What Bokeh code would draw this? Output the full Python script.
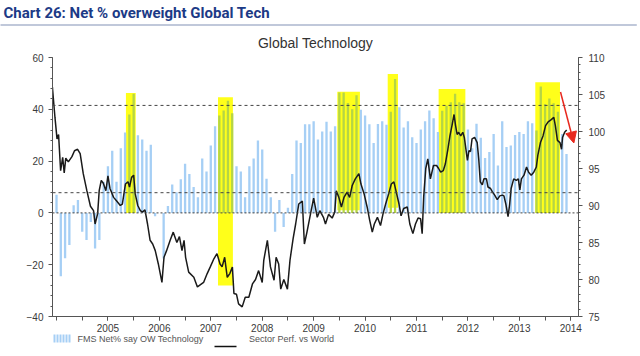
import pandas as pd
from bokeh.plotting import figure
from bokeh.models import (Range1d, LinearAxis, FixedTicker, Span,
                          Arrow, NormalHead, ColumnDataSource, Title)
from bokeh.embed import file_html
from bokeh.resources import INLINE

# ---------------- data ----------------
chart_title = "Chart 26: Net % overweight Global Tech"
panel_title = "Global Technology"
bar_label = "FMS Net% say OW Technology"
line_label = "Sector Perf. vs World"

months = pd.date_range("2004-01-01", periods=120, freq="MS")
fms_net = [7, -24.5, -17.5, -12.4, 3, 5, -7.3, -10.5, -3.5, -13.7,
           -10.5, 12, 18, 24, 12, 25, 31, 38, 46, 30,
           28.3, 24, 26.3, -1.3, 0, -17.6, 2.7, 11, 8, 13,
           19, 15, 10, 6, 21, 16, 26, 33.5, 37.6, 39.5,
           43.3, 38.5, 18, 16, 6, 18, 21, 28, 24.5, 13.2,
           6, -7.3, 5, -5.4, 2, 15, 28, 27, 34.2, 34.2,
           35.4, 28.3, 31.4, 35.2, 31.4, 33.5, 46.5, 46.5, 42.4, 40,
           45.4, 39.8, 37.6, 34.2, 27, 34.3, 35.4, 34, 39.1, 51.7,
           40.8, 33, 35.4, 29.2, 27, 32.2, 35.4, 39.5, 36.5, 31.2,
           39.4, 41.4, 42.7, 46, 42.7, 42.3, 32.2, 25, 34.4, 29,
           21.2, 23.5, 30.5, 18.3, 35.4, 25.4, 26, 30.1, 31.2, 30.5,
           35.4, 34.6, 31.8, 48.8, 42, 44.2, 42.3, 39.1, 30.5, 22.7]

perf_t = [2003.92, 2003.97, 2004.01, 2004.04, 2004.08, 2004.12, 2004.15, 2004.18, 2004.23, 2004.30,
          2004.35, 2004.41, 2004.46, 2004.52, 2004.59, 2004.66, 2004.72, 2004.75, 2004.80, 2004.83,
          2004.87, 2004.91, 2004.96, 2005.00, 2005.04, 2005.11, 2005.17, 2005.24, 2005.28, 2005.34,
          2005.39, 2005.42, 2005.46, 2005.50, 2005.53, 2005.58, 2005.63, 2005.67, 2005.72, 2005.77,
          2005.82, 2005.87, 2005.92, 2005.98, 2006.05, 2006.09, 2006.14, 2006.21, 2006.27, 2006.34,
          2006.39, 2006.44, 2006.48, 2006.51, 2006.57, 2006.67, 2006.74, 2006.80, 2006.86, 2006.93,
          2006.99, 2007.06, 2007.12, 2007.18, 2007.22, 2007.27, 2007.32, 2007.37, 2007.42, 2007.45,
          2007.50, 2007.54, 2007.61, 2007.67, 2007.74, 2007.81, 2007.87, 2007.93, 2008.00, 2008.03,
          2008.10, 2008.16, 2008.23, 2008.27, 2008.32, 2008.36, 2008.42, 2008.49, 2008.54, 2008.60,
          2008.65, 2008.71, 2008.78, 2008.82, 2008.87, 2008.94, 2009.00, 2009.07, 2009.12, 2009.19,
          2009.23, 2009.29, 2009.36, 2009.41, 2009.44, 2009.49, 2009.54, 2009.59, 2009.65, 2009.70,
          2009.75, 2009.81, 2009.88, 2009.92, 2009.98, 2010.04, 2010.09, 2010.14, 2010.18, 2010.24,
          2010.30, 2010.35, 2010.40, 2010.46, 2010.51, 2010.56, 2010.60, 2010.66, 2010.70, 2010.75,
          2010.82, 2010.87, 2010.93, 2010.98, 2011.03, 2011.08, 2011.11, 2011.14, 2011.18, 2011.22,
          2011.27, 2011.33, 2011.39, 2011.43, 2011.47, 2011.52, 2011.56, 2011.61, 2011.65, 2011.69,
          2011.73, 2011.76, 2011.79, 2011.82, 2011.86, 2011.90, 2011.93, 2011.99, 2012.02, 2012.05,
          2012.08, 2012.13, 2012.18, 2012.21, 2012.24, 2012.28, 2012.31, 2012.36, 2012.39, 2012.44,
          2012.47, 2012.52, 2012.57, 2012.62, 2012.67, 2012.70, 2012.74, 2012.78, 2012.81, 2012.84,
          2012.89, 2012.94, 2012.98, 2013.01, 2013.04, 2013.09, 2013.14, 2013.18, 2013.23, 2013.28,
          2013.33, 2013.36, 2013.41, 2013.46, 2013.51, 2013.56, 2013.62, 2013.67, 2013.70, 2013.74,
          2013.79, 2013.82, 2013.84, 2013.88, 2013.92]
perf_v = [106, 101.9, 99, 99.6, 94.7, 96.5, 94.4, 96.4, 95.9, 96.6,
          97.4, 97.6, 97, 94.3, 92, 89.9, 89.3, 87.5, 88.9, 92,
          93.4, 93, 92, 94, 92.3, 91.1, 90.6, 90, 90.2, 92.9,
          93.2, 92.5, 93.8, 94.1, 91.6, 90, 89.3, 89.1, 89.4, 87.5,
          85.3, 84.8, 83.9, 82.1, 79.6, 83, 83.9, 85.3, 86.4, 85,
          85.8, 83.9, 85.3, 83, 81, 80.3, 79, 79.3, 79.6, 80.8,
          81.7, 82.8, 83.5, 82.1, 81.7, 83, 80.3, 80.8, 81.7, 78.1,
          78, 76.7, 76.3, 77.6, 77.6, 79.4, 80, 81.2, 79.6, 82.6,
          85.3, 81.7, 79.9, 83, 82.1, 78.7, 80, 78.7, 82.6, 85.5,
          87.5, 90.2, 90.6, 84.8, 86.4, 88.9, 91, 88.4, 89.3, 88.4,
          87.5, 88.8, 88.3, 89.1, 92, 91.1, 89.8, 91.1, 91.8, 91.1,
          92.7, 93.6, 94.3, 92.9, 91.6, 89.8, 88, 86.4, 87.5, 88.4,
          87.3, 88.9, 90.2, 91.6, 92.9, 93.2, 92, 90.2, 88.6, 89.6,
          89.8, 87.5, 86.2, 87.5, 88.3, 88.2, 86.2, 91.2, 95, 96.3,
          93.6, 95.4, 95.4, 95, 94.5, 94.7, 95.6, 97.6, 99.4, 100.8,
          102.3, 100.8, 99.6, 99.9, 99.4, 99.9, 99.2, 96.1, 97.4, 97.3,
          99, 99.2, 98.5, 96.3, 93.2, 92.8, 93.6, 93.6, 92.5, 92.3,
          91.9, 91.4, 90.8, 91.3, 91.4, 91.3, 90.1, 88.5, 90.1, 92.3,
          93.6, 93.4, 93.6, 92.1, 93.6, 94.1, 95.2, 94.5, 94.1, 94.5,
          95.2, 96.8, 98.5, 99.4, 100.8, 101.3, 101.6, 101.9, 100.8, 98.8,
          98.5, 97.6, 99.2, 99.9, 100.2]

year_ticks = list(range(2005, 2015))
half_year_ticks = [2004 + i * 0.5 for i in range(21)]
left_ticks = [-40, -20, 0, 20, 40, 60]
left_minor = list(range(-40, 61, 4))
right_ticks = [75, 80, 85, 90, 95, 100, 105, 110]
right_minor = list(range(75, 111))

upper_level = 41.5
lower_level = 7.8

hl_start = [2005.35, 2007.14, 2009.46, 2010.44, 2011.43, 2013.31]
hl_end = [2005.54, 2007.43, 2009.90, 2010.64, 2011.95, 2013.79]
hl_top = [46.3, 44.7, 46.8, 53.6, 47.8, 50.4]
hl_bottom = [0, -28, 1, 2, 0, 0]

arrow_x = [2013.80, 2014.06]
arrow_y = [46.7, 27.0]

# ---------------- derived ----------------
bar_x = [d.year + (d.month - 1) / 12 for d in months]
BLUE = "#A6CFF5"
GREEN = "#B5D546"
bar_col = [GREEN if any(s <= x <= e for s, e in zip(hl_start, hl_end)) else BLUE for x in bar_x]
src = ColumnDataSource(dict(x=bar_x, top=fms_net, color=bar_col))

FONT = "Liberation Sans"
TXT = "#3a3a3a"
AX = "#555555"

# frame: x 52..578, y 56..316 in page pixels
p = figure(width=640, height=356, x_range=Range1d(2003.922, 2014.15), y_range=Range1d(-40, 60),
           output_backend="svg", toolbar_location=None,
           min_border_left=52, min_border_right=62, min_border_top=56, min_border_bottom=40,
           outline_line_color=None)
p.grid.visible = False
p.extra_y_ranges = {"perf": Range1d(75, 110)}
# pixel-like range used only to lay out the legend row under the x axis
p.extra_x_ranges = {"legend": Range1d(52, 578)}

p.quad(left=hl_start, right=hl_end, top=hl_top, bottom=hl_bottom,
       fill_color="#FFFF1A", line_color=None)
p.vbar(x="x", top="top", bottom=0, width=0.045, fill_color="color",
       line_color=None, source=src)

for lvl, dash in ((upper_level, "3 3"), (lower_level, "3 3"), (0, "2 2")):
    p.add_layout(Span(location=lvl, dimension="width", line_color="#444444",
                      line_dash=dash, line_width=1))

p.line(perf_t, perf_v, y_range_name="perf", line_color="#1a1a1a", line_width=1.5)

p.add_layout(Arrow(end=NormalHead(size=11, fill_color="#E8281E", line_color="#E8281E"),
                   x_start=arrow_x[0], y_start=arrow_y[0], x_end=arrow_x[1], y_end=arrow_y[1],
                   line_color="#E8281E", line_width=1.5))

# header panels (stacked upward from the frame)
p.add_layout(Title(text=panel_title, align="center", offset=-5, standoff=14,
                   text_font=FONT, text_font_size="14px", text_font_style="normal",
                   text_color="#333333"), "above")
p.add_layout(Title(text=" ", align="left", offset=-52, standoff=0,
                   text_font=FONT, text_font_size="1px", padding=(318, 0),
                   background_fill_color="#8291B6", background_fill_alpha=1), "above")
p.add_layout(Title(text=chart_title, align="left", offset=-49, standoff=2,
                   text_font="Roboto", text_font_size="15px", text_font_style="bold",
                   text_color="#1C3A86"), "above")

def style(ax):
    ax.axis_line_color = AX
    ax.major_tick_line_color = AX
    ax.minor_tick_line_color = AX
    ax.major_label_text_color = TXT
    ax.major_label_text_font = FONT
    ax.major_label_text_font_size = "10px"
    ax.major_tick_in = 0
    ax.minor_tick_in = 0

xa = p.xaxis[0]
xa.ticker = FixedTicker(ticks=year_ticks, minor_ticks=half_year_ticks)
xa.major_label_overrides = {y: str(y) for y in year_ticks}
style(xa)
xa.major_tick_out = 4
xa.minor_tick_out = 4
xa.major_label_standoff = 3

ya = p.yaxis[0]
ya.ticker = FixedTicker(ticks=left_ticks, minor_ticks=left_minor)
style(ya)
ya.major_tick_out = 4
ya.minor_tick_out = 2
ya.major_label_standoff = 5

ra = LinearAxis(y_range_name="perf", ticker=FixedTicker(ticks=right_ticks, minor_ticks=right_minor))
style(ra)
ra.major_tick_out = 4
ra.minor_tick_out = 2
ra.major_label_standoff = 6
p.add_layout(ra, "right")

# legend row: bar swatch (as short ticks) + both labels
leg = LinearAxis(x_range_name="legend",
                 ticker=FixedTicker(ticks=[140, 291], minor_ticks=[54, 57, 60, 63, 66, 69]),
                 major_label_overrides={140: bar_label, 291: line_label})
leg.axis_line_color = None
leg.major_tick_line_color = None
leg.minor_tick_line_color = BLUE
leg.minor_tick_line_width = 2
leg.minor_tick_out = 8
leg.minor_tick_in = 0
leg.major_tick_out = 0
leg.major_tick_in = 0
leg.major_label_standoff = -9
leg.major_label_text_font = FONT
leg.major_label_text_font_size = "9px"
leg.major_label_text_color = "#555555"
p.add_layout(leg, "below")

# legend row: line swatch
leg_line = LinearAxis(x_range_name="legend", ticker=FixedTicker(ticks=[]), bounds=(214, 236))
leg_line.axis_line_color = "#111111"
leg_line.axis_line_width = 1.5
leg_line.major_tick_line_color = None
leg_line.minor_tick_line_color = None
leg_line.major_label_text_font_size = "0px"
p.add_layout(leg_line, "below")

open("out.html", "w").write(file_html(p, INLINE))
